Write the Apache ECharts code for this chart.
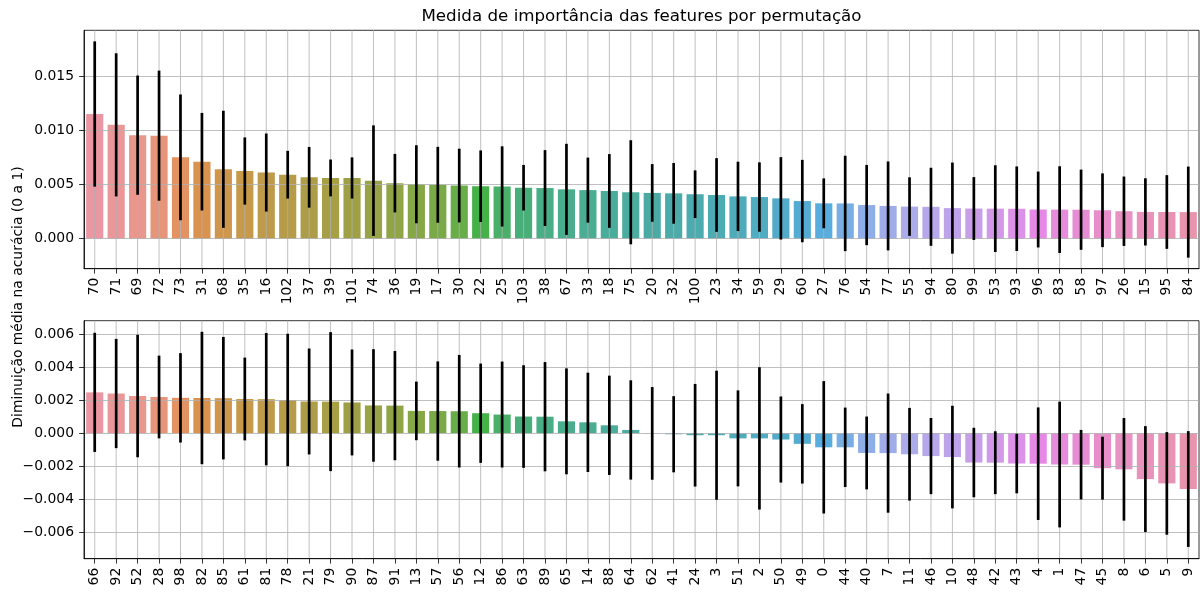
<!DOCTYPE html>
<html>
<head>
<meta charset="utf-8">
<script src="https://cdn.jsdelivr.net/npm/echarts@6/dist/echarts.min.js"></script>
<style>
html,body{margin:0;padding:0;background:#fff;}
#chart{width:1203px;height:594px;}
</style>
</head>
<body>
<div id="chart"></div>
<script>
// ---------- DATA ----------
const topCategories = ['70','71','69','72','73','31','68','35','16','102','37','39','101','74','36','19','17','30','22','25','103','38','67','33','18','75','20','32','100','23','34','59','29','60','27','76','54','77','55','94','80','99','53','93','96','83','58','97','26','15','95','84'];
const topMean = [0.0115,0.0105,0.00955,0.0095,0.0075,0.0071,0.0064,0.00624,0.0061,0.0059,0.00566,0.0056,0.0056,0.00535,0.00512,0.00502,0.00497,0.0049,0.00484,0.00482,0.0047,0.00467,0.00455,0.00448,0.0044,0.00428,0.00422,0.00418,0.0041,0.00403,0.0039,0.00384,0.00372,0.00347,0.00326,0.00325,0.0031,0.00302,0.00296,0.00294,0.00282,0.00278,0.00277,0.00276,0.00269,0.00268,0.00267,0.00262,0.00253,0.00247,0.00246,0.00245];
const topErr = [0.0067,0.0066,0.0055,0.0060,0.0058,0.0045,0.0054,0.0031,0.0036,0.0022,0.0028,0.0017,0.0019,0.0051,0.0027,0.0036,0.0035,0.0034,0.0033,0.0037,0.0021,0.0035,0.0042,0.0030,0.0034,0.0048,0.00266,0.0028,0.0022,0.0034,0.0032,0.0032,0.0038,0.0038,0.0023,0.0044,0.0037,0.0041,0.0027,0.0036,0.0042,0.0029,0.0040,0.0039,0.0035,0.0040,0.0037,0.0034,0.0032,0.0031,0.0034,0.0042];

const bottomCategories = ['66','92','52','28','98','82','85','61','81','78','21','79','90','87','91','13','57','56','12','86','63','89','65','14','88','64','62','41','24','3','51','2','50','49','0','44','40','7','11','46','10','48','42','43','4','1','47','45','8','6','5','9'];
const bottomMean = [0.00247,0.0024,0.00225,0.00219,0.00214,0.00213,0.00212,0.00207,0.00206,0.00201,0.00192,0.00191,0.00186,0.00168,0.00167,0.00135,0.00134,0.00133,0.00121,0.00113,0.00101,0.001,0.00072,0.00066,0.00048,0.0002,-0.00001,-0.00006,-0.00012,-0.00012,-0.00031,-0.00031,-0.00038,-0.00064,-0.00085,-0.00085,-0.00119,-0.0012,-0.00127,-0.00138,-0.00144,-0.00177,-0.00178,-0.00183,-0.00184,-0.00189,-0.0019,-0.00211,-0.00218,-0.00277,-0.00303,-0.00337];
const bottomErr = [0.0036,0.0033,0.0037,0.0025,0.0027,0.0040,0.0037,0.0025,0.0040,0.0040,0.0032,0.0042,0.0032,0.0034,0.0033,0.00177,0.0030,0.0034,0.0030,0.0032,0.0031,0.0033,0.0032,0.0030,0.0030,0.0030,0.0028,0.0023,0.0031,0.0039,0.0029,0.0043,0.0026,0.0024,0.0040,0.0024,0.0022,0.0036,0.0028,0.0023,0.0031,0.0021,0.0019,0.0018,0.0034,0.0038,0.0021,0.0019,0.0031,0.0032,0.0031,0.0035];

const topTicks = [0, 0.005, 0.010, 0.015];
const bottomTicks = [-0.006, -0.004, -0.002, 0, 0.002, 0.004, 0.006];

const titleText = 'Medida de importância das features por permutação';
const yLabelText = 'Diminuição média na acurácia (0 a 1)';

// ---------- seaborn husl palette (l=.7) desaturated .75 ----------
const HM = [[3.240454162114103,-1.537138512797715,-0.49853140955601],
            [-0.969266030505187,1.876010845446694,0.041556017530350],
            [0.055643430959114,-0.204025913516754,1.057225188223179]];
const refU = 0.19783000664283, refV = 0.46831999493879, kappa = 903.2962962, eps = 0.0088564516;
function maxChroma(L, H) {
  const hr = H / 180 * Math.PI, sinH = Math.sin(hr), cosH = Math.cos(hr);
  const sub1 = Math.pow(L + 16, 3) / 1560896;
  const sub2 = sub1 > eps ? sub1 : L / kappa;
  let res = Infinity;
  for (const [m1, m2, m3] of HM) {
    const top = (0.99915 * m1 + 1.05122 * m2 + 1.14460 * m3) * sub2;
    const rb = 0.86330 * m3 - 0.17266 * m2;
    const lb = 0.12949 * m3 - 0.38848 * m1;
    const bottom = (rb * sinH + lb * cosH) * sub2;
    for (const t of [0, 1]) {
      const C = L * (top - 1.05122 * t) / (bottom + 0.17266 * sinH * t);
      if (C > 0 && C < res) res = C;
    }
  }
  return res;
}
function huslToRgb(H, S, L) {
  const C = maxChroma(L, H) / 100 * S;
  const hr = H / 180 * Math.PI;
  const U = Math.cos(hr) * C, V = Math.sin(hr) * C;
  const t = (L + 16) / 116;
  const varY = Math.pow(t, 3) > eps ? Math.pow(t, 3) : (116 * t - 16) / kappa;
  const varU = U / (13 * L) + refU, varV = V / (13 * L) + refV;
  const Y = varY;
  const X = -(9 * Y * varU) / ((varU - 4) * varV - varU * varV);
  const Z = (9 * Y - 15 * varV * Y - varV * X) / (3 * varV);
  return HM.map(r => {
    let c = r[0] * X + r[1] * Y + r[2] * Z;
    c = c <= 0.0031308 ? 12.92 * c : 1.055 * Math.pow(c, 1 / 2.4) - 0.055;
    return Math.min(1, Math.max(0, c));
  });
}
function desat(rgb, p) {
  const [r, g, b] = rgb;
  const mx = Math.max(r, g, b), mn = Math.min(r, g, b);
  const l = (mx + mn) / 2;
  if (mx === mn) return rgb;
  let s = l <= 0.5 ? (mx - mn) / (mx + mn) : (mx - mn) / (2 - mx - mn);
  const rc = (mx - r) / (mx - mn), gc = (mx - g) / (mx - mn), bc = (mx - b) / (mx - mn);
  let h;
  if (r === mx) h = bc - gc; else if (g === mx) h = 2 + rc - bc; else h = 4 + gc - rc;
  h = ((h / 6) % 1 + 1) % 1;
  s *= p;
  const m2 = l <= 0.5 ? l * (1 + s) : l + s - l * s;
  const m1 = 2 * l - m2;
  const v = hh => { hh = ((hh % 1) + 1) % 1; if (hh < 1/6) return m1 + (m2 - m1) * hh * 6; if (hh < 0.5) return m2; if (hh < 2/3) return m1 + (m2 - m1) * (2/3 - hh) * 6; return m1; };
  return [v(h + 1/3), v(h), v(h - 1/3)];
}
function palette(n) {
  const out = [];
  for (let i = 0; i < n; i++) {
    const h = ((i / n + 0.01) % 1) * 359;
    const rgb = desat(huslToRgb(h, 0.9 * 99, 0.7 * 99), 0.75);
    out.push('#' + rgb.map(c => Math.round(c * 255).toString(16).padStart(2, '0')).join(''));
  }
  return out;
}

// ---------- CHART ----------
const FONT = 'DejaVu Sans';
const FS = 13.9;
const colorsTop = palette(topCategories.length);
const colorsBottom = palette(bottomCategories.length);
const fmt = v => (Math.abs(v) < 1e-12 ? '0.000' : v.toFixed(3)).replace('-', '\u2212');

const grids = [
  {left: 84, width: 1115, top: 30.3, height: 238.4},
  {left: 84, width: 1115, top: 320.7, height: 238}
];

function xAxisCfg(idx, cats) {
  return {
    type: 'category', gridIndex: idx, data: cats, z: 4,
    axisLine: {show: true, onZero: false, lineStyle: {color: '#000', width: 0.8}},
    axisTick: {show: true, alignWithLabel: true, interval: 0, length: 4.9, lineStyle: {color: '#000', width: 0.8}},
    axisLabel: {interval: 0, rotate: 90, margin: 9, fontFamily: FONT, fontSize: FS, color: '#000'},
    splitLine: {show: false}
  };
}
function yAxisCfg(idx, min, max, ticks) {
  return {
    type: 'value', gridIndex: idx, min: min, max: max, z: 2,
    axisLine: {show: true, onZero: false, lineStyle: {color: '#000', width: 0.8}},
    axisTick: {show: true, length: 4.9, customValues: ticks, lineStyle: {color: '#000', width: 0.8}},
    axisLabel: {customValues: ticks, formatter: fmt, margin: 10, fontFamily: FONT, fontSize: FS, color: '#000'},
    splitLine: {show: true, lineStyle: {color: '#b0b0b0', width: 0.8}}
  };
}
function vgridSeries(idx, cats) {
  return {
    type: 'custom', xAxisIndex: idx, yAxisIndex: idx, z: 2, silent: true,
    data: cats.map((c, i) => [i]),
    renderItem: (params, api) => {
      const cs = params.coordSys;
      const x = api.coord([api.value(0), 0])[0];
      return {type: 'line', shape: {x1: x, y1: cs.y, x2: x, y2: cs.y + cs.height},
              style: {stroke: '#b0b0b0', lineWidth: 0.8}};
    }
  };
}
function barSeries(idx, means, colors) {
  return {
    type: 'bar', xAxisIndex: idx, yAxisIndex: idx, z: 1, barWidth: '80%', silent: true,
    data: means.map((v, i) => ({value: v, itemStyle: {color: colors[i]}}))
  };
}
function errSeries(idx, means, errs) {
  return {
    type: 'custom', xAxisIndex: idx, yAxisIndex: idx, z: 3, silent: true,
    data: means.map((m, i) => [i, m, errs[i]]),
    renderItem: (params, api) => {
      const i = api.value(0), m = api.value(1), e = api.value(2);
      const p1 = api.coord([i, m + e]);
      const p2 = api.coord([i, m - e]);
      return {type: 'line', shape: {x1: p1[0], y1: p1[1], x2: p2[0], y2: p2[1]},
              style: {stroke: '#000', lineWidth: 2.7}};
    }
  };
}

const chart = echarts.init(document.getElementById('chart'), null, {renderer: 'canvas'});
chart.setOption({
  animation: false,
  backgroundColor: '#fff',
  grid: grids.map(g => Object.assign({show: true, borderColor: '#000', borderWidth: 0.8, backgroundColor: 'transparent'}, g)),
  xAxis: [xAxisCfg(0, topCategories), xAxisCfg(1, bottomCategories)],
  yAxis: [yAxisCfg(0, -0.00277, 0.01922, topTicks), yAxisCfg(1, -0.00758, 0.0068, bottomTicks)],
  series: [
    barSeries(0, topMean, colorsTop),
    vgridSeries(0, topCategories),
    errSeries(0, topMean, topErr),
    barSeries(1, bottomMean, colorsBottom),
    vgridSeries(1, bottomCategories),
    errSeries(1, bottomMean, bottomErr)
  ],
  graphic: [
    {type: 'text', x: 641.5, y: 17, silent: true,
     style: {text: titleText, fontFamily: FONT, fontSize: 16.7, fill: '#000', align: 'center', verticalAlign: 'middle'}},
    {type: 'text', x: 18.5, y: 297, rotation: Math.PI / 2, silent: true,
     style: {text: yLabelText, fontFamily: FONT, fontSize: FS, fill: '#000', align: 'center', verticalAlign: 'middle'}}
  ]
});
</script>
</body>
</html>
